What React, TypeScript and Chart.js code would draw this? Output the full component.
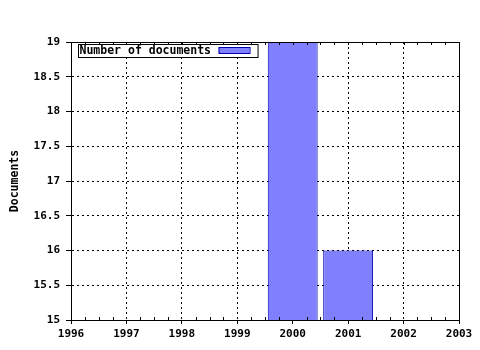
import React, { useEffect, useRef } from "react";
import { Chart, registerables } from "chart.js";

Chart.register(...registerables);

const years = [2000, 2001];
const documents = [19, 16];
const seriesLabel = "Number of documents";
const yTitle = "Documents";
const xMin = 1996;
const xMax = 2003;
const yMin = 15;
const yMax = 19;
const yStep = 0.5;

const FONT = "'DejaVu Sans Mono', 'Liberation Mono', monospace";

const framePlugin = {
  id: "frame",
  afterDraw(chart: any) {
    const { ctx, chartArea } = chart;
    const { left, right, top, bottom } = chartArea;
    const xs = chart.scales.x;
    ctx.save();
    ctx.setLineDash([]);
    ctx.strokeStyle = "#000";
    ctx.lineWidth = 1;
    // top and right frame
    ctx.beginPath();
    ctx.moveTo(Math.round(left) + 0.5, Math.round(top) + 0.5);
    ctx.lineTo(Math.round(right) + 0.5, Math.round(top) + 0.5);
    ctx.lineTo(Math.round(right) + 0.5, Math.round(bottom) + 0.5);
    ctx.stroke();
    // minor ticks on x axis (bottom, inside) and top edge
    ctx.beginPath();
    for (let v = xMin; v <= xMax + 1e-9; v += 0.25) {
      const px = Math.round(xs.getPixelForValue(v)) + 0.5;
      const isMajor = Math.abs(v - Math.round(v)) < 1e-9;
      if (!isMajor) {
        ctx.moveTo(px, Math.round(bottom));
        ctx.lineTo(px, Math.round(bottom) - 3);
      }
      ctx.moveTo(px, Math.round(top));
      ctx.lineTo(px, Math.round(top) + 3);
    }
    ctx.stroke();

    // legend box inside the plot area
    const ds = chart.data.datasets[0];
    ctx.font = `bold 11.5px ${FONT}`;
    const tw = ctx.measureText(ds.label).width;
    const bx = Math.round(left) + 7;
    const by = Math.round(top) + 2;
    const swW = 31;
    const swH = 6;
    const bw = 1 + tw + 8 + swW + 8;
    const bh = 13;
    ctx.fillStyle = "#fff";
    ctx.fillRect(bx, by, bw, bh);
    ctx.strokeStyle = "#000";
    ctx.strokeRect(bx + 0.5, by + 0.5, bw, bh);
    ctx.fillStyle = "#000";
    ctx.textBaseline = "middle";
    ctx.textAlign = "left";
    ctx.fillText(ds.label, bx + 1.5, by + bh / 2 + 1);
    const sx = bx + 1 + tw + 8;
    const sy = by + 3;
    ctx.fillStyle = ds.backgroundColor;
    ctx.fillRect(sx, sy, swW, swH);
    ctx.strokeStyle = ds.borderColor;
    ctx.strokeRect(sx + 0.5, sy + 0.5, swW, swH);
    ctx.restore();
  },
};

export default function App() {
  const ref = useRef<HTMLCanvasElement | null>(null);
  useEffect(() => {
    if (!ref.current) return;
    const chart = new Chart(ref.current, {
      type: "bar",
      data: {
        datasets: [
          {
            label: seriesLabel,
            data: years.map((x, i) => ({ x, y: documents[i] })),
            backgroundColor: "#8080ff",
            borderColor: "#0000b0",
            borderWidth: 1,
            barPercentage: 0.9,
            categoryPercentage: 1,
          },
        ],
      },
      options: {
        animation: false,
        responsive: false,
        maintainAspectRatio: false,
        layout: { padding: { top: 42, right: 21, bottom: 0, left: 0 } },
        plugins: {
          legend: { display: false },
          tooltip: { enabled: false },
        },
        scales: {
          x: {
            type: "linear",
            min: xMin,
            max: xMax,
            offset: false,
            afterFit: (s: any) => {
              s.height = 30;
            },
            ticks: {
              stepSize: 1,
              color: "#000",
              padding: 4,
              maxRotation: 0,
              font: { family: FONT, size: 11, weight: "bold" },
              callback: (v: any) => String(v),
            },
            grid: {
              offset: false,
              color: "#000",
              tickLength: 4,
              tickBorderDash: [],
              tickColor: "#000",
            },
            border: { display: true, color: "#000", width: 1, dash: [2, 3] },
          },
          y: {
            min: yMin,
            max: yMax,
            afterFit: (s: any) => {
              s.width = 71;
            },
            title: {
              display: true,
              text: yTitle,
              color: "#000",
              font: { family: FONT, size: 11.5, weight: "bold" },
              padding: { top: 8, bottom: 0 },
            },
            ticks: {
              stepSize: yStep,
              color: "#000",
              padding: 6,
              font: { family: FONT, size: 11, weight: "bold" },
              callback: (v: any) => String(v),
            },
            grid: {
              color: "#000",
              tickLength: 5,
              tickBorderDash: [],
              tickColor: "#000",
            },
            border: { display: true, color: "#000", width: 1, dash: [2, 3] },
          },
        },
      },
      plugins: [framePlugin],
    } as any);
    return () => chart.destroy();
  }, []);
  return (
    <div style={{ position: "absolute", left: 0, top: 0, width: 480, height: 350, background: "#fff" }}>
      <canvas ref={ref} width={480} height={350} />
    </div>
  );
}
